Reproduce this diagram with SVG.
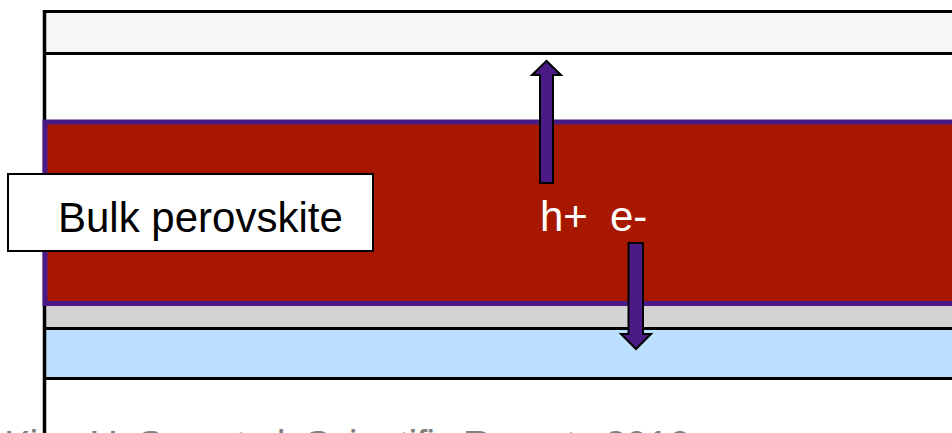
<svg xmlns="http://www.w3.org/2000/svg" width="952" height="433" viewBox="0 0 952 433">
<style>
.lbl{font-family:"Liberation Sans",Arial,sans-serif;font-size:42px}
.cap{font-family:"Liberation Sans",Arial,sans-serif;font-size:40px;fill:#7f7f7f}
.arrow{fill:#4a1a86;stroke:#000;stroke-width:2;stroke-linejoin:miter}
</style>
<rect width="952" height="433" fill="#fff"/>
<g id="top-layer">
<rect x="44.5" y="11.5" width="930" height="42" fill="#f6f6f6" stroke="#000" stroke-width="3"/>
</g>
<g id="grey-layer">
<rect x="44.5" y="305" width="930" height="23.5" fill="#d3d3d3"/>
<line x1="44.5" y1="328.5" x2="960" y2="328.5" stroke="#000" stroke-width="3"/>
</g>
<g id="blue-layer">
<rect x="44.5" y="330" width="930" height="47" fill="#bddfff"/>
<line x1="44.5" y1="378.5" x2="960" y2="378.5" stroke="#000" stroke-width="3"/>
</g>
<g id="left-edge">
<line x1="44.5" y1="10" x2="44.5" y2="433" stroke="#000" stroke-width="3.5"/>
</g>
<g id="perovskite-layer">
<rect x="45" y="122" width="930" height="181.5" fill="#a81700" stroke="#4a1a87" stroke-width="5"/>
</g>
<g id="connectors">
<polygon class="arrow" points="540,183 540,75 532,75 546.5,61 561,75 553,75 553,183"/>
<polygon class="arrow" points="628.5,243 643,243 643,334 651,334 636,349 621,334 628.5,334"/>
</g>
<g id="carriers">
<text class="lbl" x="540" y="231" fill="#fff">h+</text>
<text class="lbl" x="610" y="231" fill="#fff">e-</text>
</g>
<g id="bulk-label">
<rect x="8" y="174" width="365" height="77" fill="#fff" stroke="#000" stroke-width="2"/>
<text class="lbl" x="58" y="232" fill="#000">Bulk perovskite</text>
</g>
<g id="caption">
<text class="cap" x="4" y="459" textLength="686" lengthAdjust="spacing">Kim, H. Seo et al. Scientific Reports 2016</text>
</g>
</svg>
